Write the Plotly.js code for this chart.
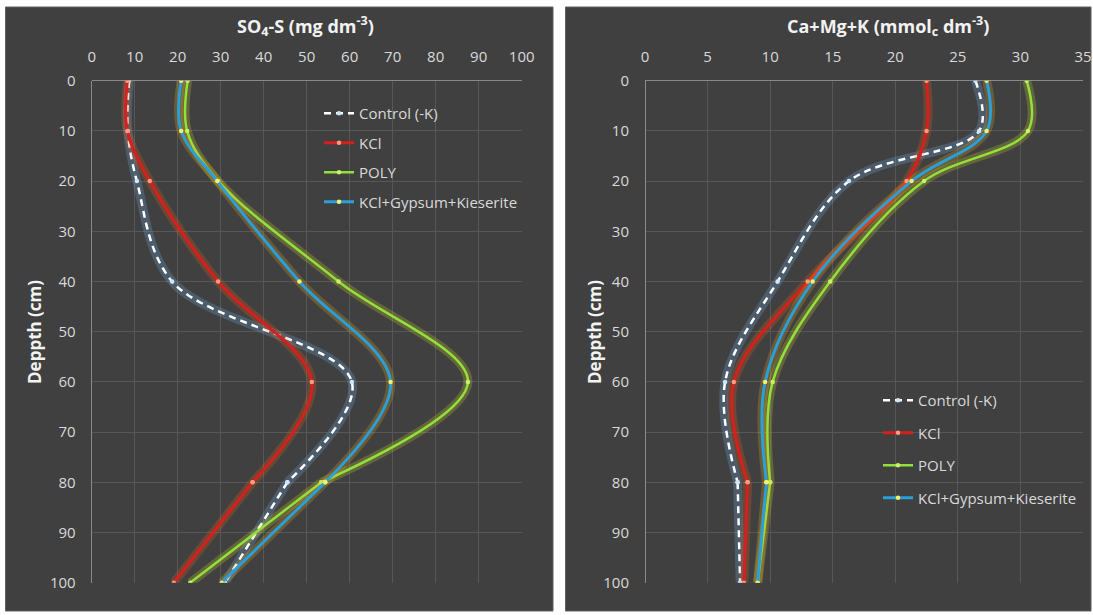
<!DOCTYPE html>
<html>
<head>
<meta charset="utf-8">
<script src="https://cdn.plot.ly/plotly-3.0.1.min.js"></script>
<style>
  html, body { margin: 0; padding: 0; background: #ffffff; }
  #chart { width: 1093px; height: 615px; }
</style>
</head>
<body>
<div id="chart"></div>
<script>
// ---------------- DATA ----------------
const depth = [0, 10, 20, 40, 60, 80, 100];
const seriesNames = ['Control (-K)', 'KCl', 'POLY', 'KCl+Gypsum+Kieserite'];

// SO4-S (mg dm-3)
const so4Control = [8.7, 8.4, 10.5, 18.7, 60.5, 45.5, 31.0];
const so4KCl     = [8.3, 8.3, 13.5, 29.4, 51.2, 37.4, 19.1];
const so4Poly    = [22.3, 22.2, 29.4, 57.4, 87.5, 53.4, 22.9];
const so4KGK     = [20.8, 20.8, 29.2, 48.3, 69.5, 54.3, 30.2];

// Ca+Mg+K (mmolc dm-3)
const cmkControl = [26.4, 26.7, 16.3, 10.6, 6.4, 7.4, 7.6];
const cmkKCl     = [22.5, 22.5, 20.9, 13.0, 7.1, 8.2, 7.9];
const cmkPoly    = [30.5, 30.6, 22.3, 14.8, 10.2, 10.0, 9.0];
const cmkKGK     = [27.3, 27.3, 21.3, 13.4, 9.6, 9.7, 9.0];

const leftTicks = [0, 10, 20, 30, 40, 50, 60, 70, 80, 90, 100];
const rightTicks = [0, 5, 10, 15, 20, 25, 30, 35];
const depthTicks = [0, 10, 20, 30, 40, 50, 60, 70, 80, 90, 100];

// ---------------- STYLE ----------------
const W = 1093, H = 615;
const px = v => v / W;
const py = v => 1 - v / H;
const FONT = 'Open Sans, Noto Sans, sans-serif';
const TICKCOL = '#d9d9d9';
const PANEL = '#404040';
const GRID = '#575757';

const styles = [
  {color: '#ffffff', dash: '7px,5px', width: 2.5, marker: '#cfe6f7', glow: 'rgba(120,190,255,0.22)'},
  {color: '#d61f1f', dash: 'solid',   width: 3.0, marker: '#ff9c80', glow: 'rgba(255,100,20,0.22)'},
  {color: '#92e03a', dash: 'solid',   width: 2.5, marker: '#c9f06a', glow: 'rgba(230,230,40,0.22)'},
  {color: '#2a9fd9', dash: 'solid',   width: 3.0, marker: '#f3f06a', glow: 'rgba(255,180,20,0.22)'}
];

const traces = [];
function addSeries(vals, idx, xa, ya, legendId, panel) {
  const s = styles[idx];
  const grp = panel + '_' + idx;
  const xs1 = vals.slice(0, 6), ys1 = depth.slice(0, 6);
  const xs2 = vals.slice(5), ys2 = depth.slice(5);
  // soft glow under each line
  [[xs1, ys1, 'spline'], [xs2, ys2, 'linear']].forEach(([x, y, shp]) => {
    traces.push({
      x: x, y: y, xaxis: xa, yaxis: ya, type: 'scatter', mode: 'lines',
      line: {color: s.glow, width: 9, shape: shp, smoothing: 1},
      hoverinfo: 'skip', showlegend: false, legendgroup: grp, legend: legendId
    });
  });
  // main smooth part 0-80
  traces.push({
    x: xs1, y: ys1, xaxis: xa, yaxis: ya, type: 'scatter', mode: 'lines+markers',
    name: seriesNames[idx],
    line: {color: s.color, width: s.width, dash: s.dash, shape: 'spline', smoothing: 1},
    marker: {color: s.marker, size: 4.5},
    showlegend: true, legendgroup: grp, legend: legendId
  });
  // last segment 80-100 (straight)
  traces.push({
    x: xs2, y: ys2, xaxis: xa, yaxis: ya, type: 'scatter', mode: 'lines+markers',
    name: seriesNames[idx],
    line: {color: s.color, width: s.width, dash: s.dash, shape: 'linear'},
    marker: {color: s.marker, size: 4.5},
    showlegend: false, legendgroup: grp, legend: legendId
  });
}

[so4Control, so4KCl, so4Poly, so4KGK].forEach((v, i) => addSeries(v, i, 'x', 'y', 'legend', 'L'));
[cmkControl, cmkKCl, cmkPoly, cmkKGK].forEach((v, i) => addSeries(v, i, 'x2', 'y2', 'legend2', 'R'));

const tickFont = {family: FONT, size: 15, color: TICKCOL};
const yDomain = [py(582.7), py(80.7)];

function xAxis(domain, range, ticks, anchor) {
  return {
    domain: domain, range: range, side: 'top', anchor: anchor,
    tickvals: ticks, ticktext: ticks.map(String), tickfont: tickFont,
    showgrid: true, gridcolor: GRID, gridwidth: 1,
    zeroline: true, zerolinecolor: '#8a8a8a', zerolinewidth: 1,
    showline: false, ticks: '', ticklabelstandoff: 15, fixedrange: true
  };
}
function yAxis(anchor) {
  return {
    domain: yDomain, range: [100, 0], anchor: anchor,
    tickvals: depthTicks, ticktext: depthTicks.map(String), tickfont: tickFont,
    showgrid: true, gridcolor: GRID, gridwidth: 1,
    zeroline: true, zerolinecolor: '#8a8a8a', zerolinewidth: 1,
    showline: false, ticks: '', ticklabelstandoff: 15, fixedrange: true
  };
}

const legendBase = {
  font: {family: FONT, size: 15, color: TICKCOL},
  bgcolor: 'rgba(0,0,0,0)', borderwidth: 0,
  xanchor: 'left', yanchor: 'top', itemclick: false
};

const layout = {
  width: W, height: H,
  margin: {l: 0, r: 0, t: 0, b: 0},
  paper_bgcolor: '#ffffff', plot_bgcolor: 'rgba(0,0,0,0)',
  showlegend: true,
  xaxis: xAxis([px(91.7), px(521.7)], [0, 100], leftTicks, 'y'),
  yaxis: yAxis('x'),
  xaxis2: xAxis([px(645), px(1083)], [0, 35], rightTicks, 'y2'),
  yaxis2: yAxis('x2'),
  legend: Object.assign({}, legendBase, {x: px(319), y: py(97), tracegroupgap: 7}),
  legend2: Object.assign({}, legendBase, {x: px(878), y: py(384), tracegroupgap: 10}),
  shapes: [
    {type: 'rect', xref: 'paper', yref: 'paper', x0: px(5.5), x1: px(553), y0: py(611), y1: py(7),
     fillcolor: PANEL, line: {color: '#5e5e5e', width: 1}, layer: 'below'},
    {type: 'rect', xref: 'paper', yref: 'paper', x0: px(565.5), x1: px(1091), y0: py(611), y1: py(7),
     fillcolor: PANEL, line: {color: '#5e5e5e', width: 1}, layer: 'below'}
  ],
  annotations: [
    {xref: 'paper', yref: 'paper', x: px(305), y: py(26), xanchor: 'center', yanchor: 'middle', showarrow: false,
     text: '<b>SO<sub>4</sub>-S (mg dm<sup>-3</sup>)</b>', font: {family: FONT, size: 18, color: '#f2f2f2'}},
    {xref: 'paper', yref: 'paper', x: px(888), y: py(26), xanchor: 'center', yanchor: 'middle', showarrow: false,
     text: '<b>Ca+Mg+K (mmol<sub>c</sub> dm<sup>-3</sup>)</b>', font: {family: FONT, size: 18, color: '#f2f2f2'}},
    {xref: 'paper', yref: 'paper', x: px(34), y: py(332), xanchor: 'center', yanchor: 'middle', showarrow: false,
     textangle: -90, text: '<b>Deppth (cm)</b>', font: {family: FONT, size: 17, color: '#f2f2f2'}},
    {xref: 'paper', yref: 'paper', x: px(594), y: py(332), xanchor: 'center', yanchor: 'middle', showarrow: false,
     textangle: -90, text: '<b>Deppth (cm)</b>', font: {family: FONT, size: 17, color: '#f2f2f2'}}
  ]
};

Plotly.newPlot('chart', traces, layout, {staticPlot: true, displayModeBar: false});
</script>
</body>
</html>
